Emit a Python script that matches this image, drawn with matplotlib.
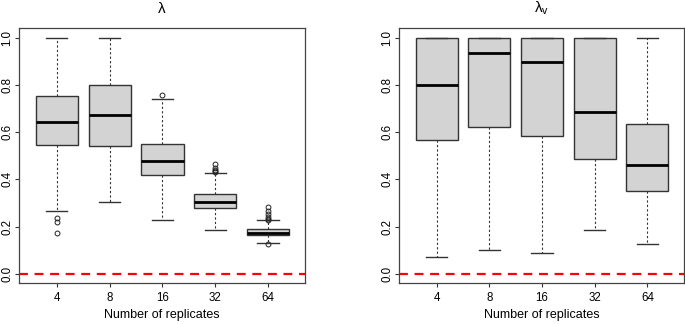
import matplotlib.pyplot as plt
import numpy as np

plt.rcParams['font.family'] = ['Liberation Sans', 'DejaVu Sans']
plt.rcParams['mathtext.default'] = 'regular'

# Data
groups = ['4', '8', '16', '32', '64']

lam_whislo = [0.265, 0.303, 0.228, 0.186, 0.130]
lam_q1 = [0.546, 0.542, 0.420, 0.278, 0.165]
lam_med = [0.643, 0.673, 0.477, 0.306, 0.175]
lam_q3 = [0.752, 0.800, 0.549, 0.337, 0.189]
lam_whishi = [1.000, 1.000, 0.742, 0.426, 0.228]
lam_fliers = [
    [0.236, 0.221, 0.172],
    [],
    [0.759],
    [0.467, 0.447, 0.440, 0.435, 0.430],
    [0.282, 0.267, 0.252, 0.240, 0.233, 0.229, 0.126],
]

lamv_whislo = [0.071, 0.102, 0.090, 0.185, 0.128]
lamv_q1 = [0.567, 0.623, 0.582, 0.488, 0.353]
lamv_med = [0.798, 0.935, 0.897, 0.684, 0.463]
lamv_q3 = [1.000, 1.000, 1.000, 1.000, 0.633]
lamv_whishi = [1.000, 1.000, 1.000, 1.000, 1.000]
lamv_fliers = [[], [], [], [], []]


def make_stats(lo, q1, med, q3, hi, fl):
    return [dict(whislo=lo[i], q1=q1[i], med=med[i], q3=q3[i], whishi=hi[i],
                 fliers=fl[i], label=groups[i]) for i in range(len(groups))]


def draw(ax, stats, title):
    ax.bxp(stats, positions=range(1, len(groups) + 1), widths=0.8,
           patch_artist=True, showfliers=True,
           boxprops=dict(facecolor='#d3d3d3', edgecolor='#333333', linewidth=1.0),
           medianprops=dict(color='black', linewidth=2.0),
           whiskerprops=dict(color='#333333', linewidth=0.8, linestyle=(0, (2, 2))),
           capprops=dict(color='#333333', linewidth=1.0),
           flierprops=dict(marker='o', markersize=3.5, markerfacecolor='none',
                           markeredgecolor='#222222', markeredgewidth=0.7))
    ax.axhline(0, color='red', linestyle=(0, (4, 3)), linewidth=1.6, zorder=0)
    ax.set_xlim(0.29, 5.70)
    ax.set_ylim(-0.04, 1.04)
    ax.set_yticks([0, 0.2, 0.4, 0.6, 0.8, 1.0])
    ax.set_yticklabels(['0.0', '0.2', '0.4', '0.6', '0.8', '1.0'],
                       rotation=90, va='center')
    ax.set_xticks(range(1, len(groups) + 1))
    ax.set_xticklabels(groups)
    ax.tick_params(labelsize=8.3, length=3, width=0.8, color='#333333')
    ax.tick_params(axis='y', pad=1.5)
    ax.tick_params(axis='x', pad=3)
    for s in ax.spines.values():
        s.set_color('#444444')
        s.set_linewidth(0.9)
    ax.set_xlabel('Number of replicates', fontsize=9, labelpad=4)
    ax.set_title(title, fontsize=11, pad=11)


fig = plt.figure(figsize=(6.85, 3.24), dpi=100)
ax1 = fig.add_axes([0.0282, 0.1256, 0.4171, 0.787])
ax2 = fig.add_axes([0.5829, 0.1256, 0.4160, 0.787])

draw(ax1, make_stats(lam_whislo, lam_q1, lam_med, lam_q3, lam_whishi, lam_fliers), 'λ')
draw(ax2, make_stats(lamv_whislo, lamv_q1, lamv_med, lamv_q3, lamv_whishi, lamv_fliers), r'λ$_{v}$')

fig.savefig('out.png', dpi=100)
